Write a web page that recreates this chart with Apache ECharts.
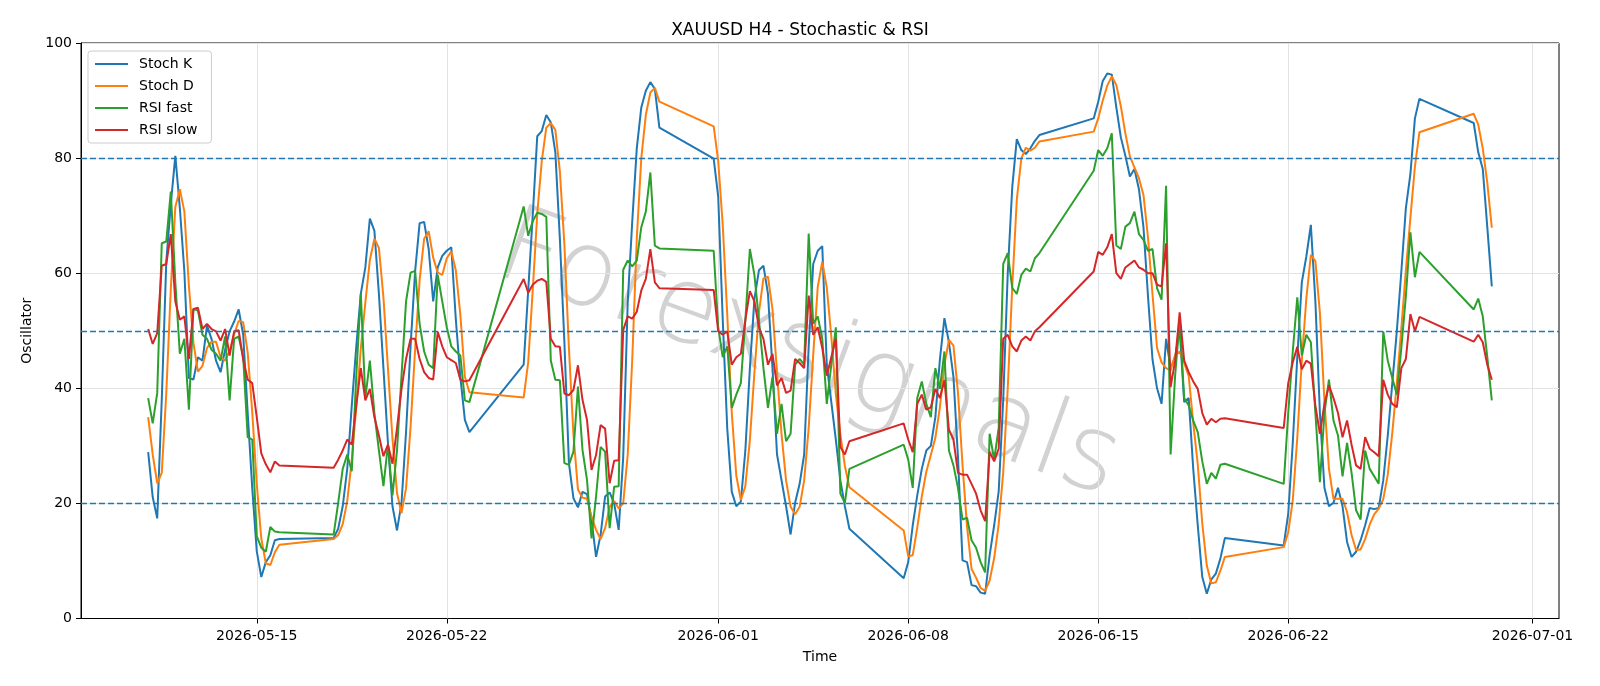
<!DOCTYPE html>
<html>
<head>
<meta charset="utf-8">
<title>XAUUSD H4 - Stochastic & RSI</title>
<script src="https://cdn.jsdelivr.net/npm/echarts@6/dist/echarts.min.js"></script>
<style>
  html, body { margin: 0; padding: 0; background: #fff; }
  #chart { width: 1600px; height: 686px; }
</style>
</head>
<body>
<div id="chart"></div>
<script>
const H4 = 4 * 3600 * 1000;

// each trading session: first H4 bar (UTC) and how many bars it has
const sessionStarts = ['2026-05-11T00:00Z', '2026-05-17T20:00Z', '2026-05-24T20:00Z', '2026-05-31T20:00Z',
  '2026-06-07T20:00Z', '2026-06-14T20:00Z', '2026-06-21T20:00Z', '2026-06-28T20:00Z'];
const sessionBars = [30, 31, 31, 31, 31, 30, 31, 5];

const tickDates = ['2026-05-15', '2026-05-22', '2026-06-01', '2026-06-08', '2026-06-15', '2026-06-22', '2026-07-01'];
const levelLines = [20, 50, 80];

const stochK = [
  28.9, 21.1, 17.4, 38, 62, 72, 80.4, 71.3, 60.3, 41.8, 41.5, 45.4, 44.8, 50.9, 48.6, 44.8, 42.8, 46.7, 49.9, 51.6, 53.7, 49.3, 35.7, 22.7, 11.7, 7.2, 9.8, 11.0, 13.6, 13.8,
  14.0, 15.6, 19.5, 26.0, 37.0, 47.3, 56.4, 61.0, 69.5, 67.4, 56.4, 43.5, 30.5, 19.5, 15.3, 20.1, 32.4, 47.3, 60.3, 68.7, 68.9, 64.2, 55.1, 61.0, 63.0, 63.9, 64.5, 52.0, 42.0, 34.5, 32.4,
  44.1, 57, 70, 83.8, 84.7, 87.5, 86.2, 81, 66, 48, 27, 20.9, 19.3, 22.0, 21.6, 17.1, 10.7, 14.5, 21.2, 21.9, 20.0, 15.4, 28, 55, 69, 81.7, 88.8, 91.7, 93.2, 92.0, 85.3,
  79.9, 73.3, 52, 33, 22, 19.5, 20.3, 29.2, 43.5, 55.5, 60.5, 61.3, 56.4, 43.5, 28.5, 24.0, 19.5, 14.6, 20.1, 23.4, 28.5, 47.3, 61.6, 63.9, 64.7, 44.1, 37.6, 31.1, 24.0, 19.5, 15.6,
  7.0, 9.8, 16.2, 21.4, 26.0, 29.2, 30.0, 35, 45, 52.2, 48.0, 42, 28, 10.1, 9.8, 5.8, 5.6, 4.5, 4.3, 11.0, 16.2, 22.1, 38, 60, 75, 83.3, 81.4, 80.7, 81.7, 83.0, 84.0,
  86.9, 89.8, 93.4, 94.7, 94.5, 88.8, 83.6, 80.4, 76.8, 78.1, 74.6, 68, 56, 45, 40, 37.3, 48.6, 43.5, 45.4, 50.3, 37.6, 38.3, 26.0, 16.2, 7.2, 4.3, 6.8, 7.8, 10.4, 14.0,
  12.7, 18.2, 30.5, 45.4, 58.4, 62.9, 68.4, 55.1, 35.7, 22.7, 19.5, 20.1, 22.7, 19.5, 13.3, 10.7, 11.6, 13.6, 16.2, 19.2, 19.0, 19.2, 24.0, 31.8, 40.9, 49.9, 60.3, 71.3, 77.2, 86.9, 90.3,
  86.1, 81.0, 78.1, 68, 57.7
];
const stochD = [
  35.0, 28.5, 23.5, 25.3, 39.1, 57.3, 71.5, 74.6, 70.7, 57.8, 47.9, 42.9, 43.9, 47.0, 48.1, 48.1, 45.4, 44.8, 46.5, 49.4, 51.7, 51.5, 46.2, 35.9, 23.4, 13.9, 9.6, 9.3, 11.5, 12.8,
  13.8, 14.5, 16.4, 20.4, 27.5, 36.8, 46.9, 54.9, 62.3, 66.0, 64.4, 55.8, 43.5, 31.2, 21.8, 18.3, 22.6, 33.3, 46.7, 58.8, 66.0, 67.3, 62.7, 60.1, 59.7, 62.6, 63.8, 60.5, 52.8, 42.0, 39.3,
  38.4, 44.5, 57.0, 70.3, 79.5, 85.3, 86.1, 84.9, 77.7, 65.0, 47.0, 32.0, 22.4, 21.0, 20.8, 17.7, 15.4, 13.8, 15.7, 19.4, 20.4, 19.1, 20.0, 28.5, 45.0, 66.0, 80.0, 87.5, 91.4, 92.2, 89.8,
  85.5, 79.5, 68.4, 52.8, 35.7, 24.8, 20.6, 23.0, 31.0, 42.7, 53.2, 59.1, 59.4, 53.7, 42.8, 32.0, 24.0, 19.4, 18.1, 19.4, 24.0, 33.1, 45.8, 57.6, 62.0, 57.5, 49.0, 39.0, 32.0, 26.5, 22.8,
  15.3, 10.8, 11.0, 15.8, 21.2, 25.5, 28.4, 31.4, 36.7, 44.1, 48.4, 47.4, 39.3, 26.7, 16.0, 8.6, 7.1, 5.3, 4.8, 6.6, 10.5, 16.4, 25.4, 40.0, 57.7, 72.8, 79.9, 81.8, 81.3, 81.8, 82.9,
  84.6, 86.9, 90.0, 92.6, 94.2, 92.7, 89.0, 84.3, 80.3, 78.4, 76.5, 73.6, 66.2, 56.3, 47.0, 44.5, 43.5, 43.1, 45.8, 46.4, 44.4, 42.1, 34.0, 26.8, 16.5, 9.2, 6.1, 6.3, 8.3, 10.7,
  12.4, 15.0, 20.5, 31.4, 44.8, 55.6, 63.2, 62.1, 53.1, 37.8, 26.0, 20.8, 20.8, 20.8, 18.5, 14.5, 11.9, 12.0, 13.8, 16.3, 18.1, 19.1, 20.7, 25.0, 32.2, 40.9, 50.4, 60.5, 69.6, 78.5, 84.5,
  87.7, 85.8, 81.7, 75.7, 67.9
];
const rsiFast = [
  38.3, 33.9, 39.2, 65.2, 65.5, 74.2, 58.4, 46.0, 48.6, 36.3, 53.8, 53.5, 49.3, 48.6, 46.7, 46.0, 44.8, 49.0, 37.9, 48.6, 49.0, 45.4, 31.5, 31.1, 14.3, 12.3, 11.6, 15.9, 15.1, 15.0,
  14.6, 20.1, 26.0, 28.5, 25.6, 42.2, 56.4, 38.3, 44.8, 35.7, 29.2, 23.0, 30.2, 21.4, 29.2, 42.2, 55.1, 60.1, 60.4, 51.2, 46.4, 44.1, 43.5, 59.7, 55.1, 50.6, 47.3, 46.4, 45.7, 37.9, 37.6,
  71.6, 66.5, 69.0, 70.5, 70.3, 69.8, 44.8, 41.5, 41.4, 27.0, 26.7, 29.0, 40.3, 29.3, 24.1, 13.9, 21.2, 29.8, 29.0, 15.7, 22.9, 23.0, 60.6, 62.2, 61.2, 62.2, 68.0, 70.7, 77.5, 64.8, 64.3,
  63.9, 50.6, 45.4, 47.3, 36.6, 38.9, 40.9, 51.8, 64.2, 59.7, 51.9, 43.5, 36.6, 42.0, 32.1, 37.3, 30.8, 32.1, 44.1, 45.1, 44.1, 66.9, 51.2, 52.5, 48.6, 37.3, 44.1, 50.6, 21.7, 20.1, 26.0,
  30.2, 27.6, 22.7, 38.3, 41.2, 37.3, 35.0, 43.5, 39.9, 46.4, 29.2, 26.6, 22.7, 17.2, 17.5, 13.6, 12.3, 9.8, 8.0, 32.1, 27.6, 33.1, 61.6, 63.5, 57.4, 56.4, 59.7, 60.8, 60.3, 62.6, 63.5,
  77.8, 81.4, 80.4, 81.7, 84.3, 64.8, 64.2, 68.1, 68.7, 70.7, 66.8, 65.8, 63.9, 64.2, 57.4, 55.4, 75.2, 28.5, 42.2, 51.9, 38.3, 37.0, 34.4, 32.4, 27.3, 23.4, 25.3, 24.3, 26.7, 26.9,
  23.4, 35.7, 46.4, 55.8, 45.7, 49.3, 48.0, 35.7, 23.7, 35.7, 41.5, 34.4, 31.8, 24.7, 30.5, 25.3, 18.8, 17.2, 29.2, 26.0, 24.7, 23.4, 49.9, 44.8, 41.8, 38.9, 47.0, 56.0, 67.1, 59.3, 63.7,
  53.7, 55.6, 52.5, 45.4, 37.9
];
const rsiSlow = [
  50.3, 47.7, 49.6, 61.3, 61.6, 66.8, 55.1, 51.9, 52.5, 45.1, 53.8, 54.0, 50.3, 51.2, 50.3, 49.9, 48.3, 50.3, 45.7, 49.9, 50.1, 45.0, 41.5, 40.9, 35.0, 28.7, 26.8, 25.4, 27.3, 26.6,
  26.2, 27.6, 29.2, 31.1, 30.2, 37.0, 43.5, 37.9, 39.9, 35.0, 31.8, 28.2, 30.2, 26.9, 33.1, 39.9, 45.1, 48.6, 48.6, 45.1, 42.8, 41.8, 41.5, 49.8, 47.3, 45.4, 44.9, 44.4, 41.5, 41.2, 41.4,
  59.0, 56.6, 58.0, 58.7, 59.0, 58.5, 48.6, 47.3, 47.2, 39.1, 38.8, 39.7, 44.0, 38.0, 34.5, 25.8, 28.4, 33.6, 33.0, 23.5, 27.4, 27.5, 50.1, 52.5, 52.1, 53.3, 57.0, 59.0, 64.2, 58.4, 57.4,
  57.1, 49.9, 49.3, 49.9, 44.1, 45.4, 46.0, 51.9, 56.9, 55.1, 50.6, 48.6, 44.1, 46.0, 40.5, 41.8, 39.2, 39.6, 45.1, 44.4, 43.5, 56.1, 49.3, 50.6, 47.0, 42.2, 45.4, 48.6, 29.8, 28.5, 30.8,
  33.9, 31.1, 28.9, 37.3, 38.9, 36.3, 36.7, 39.9, 38.3, 41.4, 32.8, 31.1, 25.3, 25.0, 25.0, 23.4, 21.7, 18.8, 16.9, 28.9, 27.3, 29.5, 48.6, 49.3, 47.3, 46.4, 48.3, 49.0, 48.3, 49.9, 50.6,
  60.3, 63.7, 63.2, 64.5, 66.8, 60.0, 59.0, 61.0, 61.6, 62.2, 61.0, 60.6, 60.0, 60.0, 58.0, 57.7, 65.2, 40.2, 44.8, 53.2, 44.8, 42.8, 41.2, 39.9, 35.7, 33.7, 34.7, 34.1, 34.7, 34.8,
  33.1, 40.9, 44.5, 47.2, 43.3, 44.8, 44.3, 37.0, 32.1, 37.3, 40.5, 38.3, 35.7, 31.5, 34.4, 30.2, 26.6, 26.0, 31.5, 29.5, 28.9, 28.2, 41.5, 38.9, 37.3, 36.7, 43.5, 45.1, 52.9, 49.9, 52.4,
  48.1, 49.3, 48.0, 44.1, 41.5
];

const times = [];
sessionStarts.forEach((s, i) => {
  const t0 = Date.parse(s);
  for (let j = 0; j < sessionBars[i]; j++) times.push(t0 + j * H4);
});
const pairs = vals => vals.map((v, i) => [times[i], v]);
const tickTimes = tickDates.map(d => Date.parse(d + 'T00:00Z'));

// matplotlib style 5% margin on the time axis
const span = times[times.length - 1] - times[0];
const xMin = times[0] - span * 0.05;
const xMax = times[times.length - 1] + span * 0.05;

const pad2 = n => String(n).padStart(2, '0');
const fmtDate = v => {
  const d = new Date(v);
  return d.getUTCFullYear() + '-' + pad2(d.getUTCMonth() + 1) + '-' + pad2(d.getUTCDate());
};

const FONT = 'DejaVu Sans';
const chart = echarts.init(document.getElementById('chart'), null, {renderer: 'canvas'});

function mkLine(name, color, vals) {
  return {
    name, type: 'line', data: pairs(vals),
    showSymbol: false, symbol: 'none', z: 2,
    lineStyle: {color, width: 2},
    itemStyle: {color},
    emphasis: {disabled: true}
  };
}

const series = [
  mkLine('Stoch K', '#1f77b4', stochK),
  mkLine('Stoch D', '#ff7f0e', stochD),
  mkLine('RSI fast', '#2ca02c', rsiFast),
  mkLine('RSI slow', '#d62728', rsiSlow)
];
// vertical grid lines at the date ticks
series[0].markLine = {
  silent: true, symbol: 'none', z: 1, animation: false,
  label: {show: false},
  lineStyle: {color: '#e3e3e3', type: 'solid', width: 1},
  data: tickTimes.map(t => ({xAxis: t}))
};
// overbought / mid / oversold levels
series[3].markLine = {
  silent: true, symbol: 'none', animation: false,
  label: {show: false},
  lineStyle: {color: '#1f77b4', type: [6, 3], width: 1.3},
  data: levelLines.map(v => ({yAxis: v}))
};

const option = {
  animation: false,
  backgroundColor: '#fff',
  textStyle: {fontFamily: FONT},
  title: {
    text: 'XAUUSD H4 - Stochastic & RSI',
    left: 'center', top: 17,
    textStyle: {fontFamily: FONT, fontSize: 17, fontWeight: 'normal', color: '#000'}
  },
  legend: {
    orient: 'vertical', left: 88, top: 51,
    padding: [6, 14, 6, 7],
    itemWidth: 33, itemHeight: 2, itemGap: 8,
    icon: 'rect',
    backgroundColor: '#fff',
    borderColor: '#cccccc', borderWidth: 1, borderRadius: 3,
    textStyle: {fontFamily: FONT, fontSize: 14, color: '#000', padding: [0, 0, 0, 6]},
    data: ['Stoch K', 'Stoch D', 'RSI fast', 'RSI slow']
  },
  grid: {
    left: 81, right: 41, top: 43, bottom: 67.5,
    show: true, borderColor: '#000', borderWidth: 1, backgroundColor: 'transparent'
  },
  xAxis: {
    type: 'value', min: xMin, max: xMax, scale: true,
    name: 'Time', nameLocation: 'middle', nameGap: 32,
    nameTextStyle: {fontFamily: FONT, fontSize: 14, color: '#000'},
    axisLine: {show: true, lineStyle: {color: '#000', width: 1}},
    axisTick: {show: true, customValues: tickTimes, length: 5, lineStyle: {color: '#000'}},
    axisLabel: {customValues: tickTimes, formatter: v => fmtDate(v), fontFamily: FONT, fontSize: 14, color: '#000', margin: 11},
    splitLine: {show: false}
  },
  yAxis: {
    type: 'value', min: 0, max: 100, interval: 20,
    name: 'Oscillator', nameLocation: 'middle', nameGap: 47,
    nameTextStyle: {fontFamily: FONT, fontSize: 14, color: '#000'},
    axisLine: {show: true, lineStyle: {color: '#000', width: 1}},
    axisTick: {show: true, length: 5, lineStyle: {color: '#000'}},
    axisLabel: {fontFamily: FONT, fontSize: 14, color: '#000', margin: 9},
    splitLine: {show: true, lineStyle: {color: '#e3e3e3', width: 1}}
  },
  graphic: [{
    type: 'text', x: 808, y: 358, rotation: -20 * Math.PI / 180, z: 0, silent: true,
    style: {
      text: 'Forexsignals',
      fontFamily: FONT, fontSize: 106, fontWeight: 200,
      fill: 'rgba(205,205,205,0.9)',
      align: 'center', verticalAlign: 'middle',
      shadowColor: 'rgba(0,0,0,0.35)', shadowBlur: 4, shadowOffsetX: 3, shadowOffsetY: 3
    }
  }],
  series
};
chart.setOption(option);
</script>
</body>
</html>
